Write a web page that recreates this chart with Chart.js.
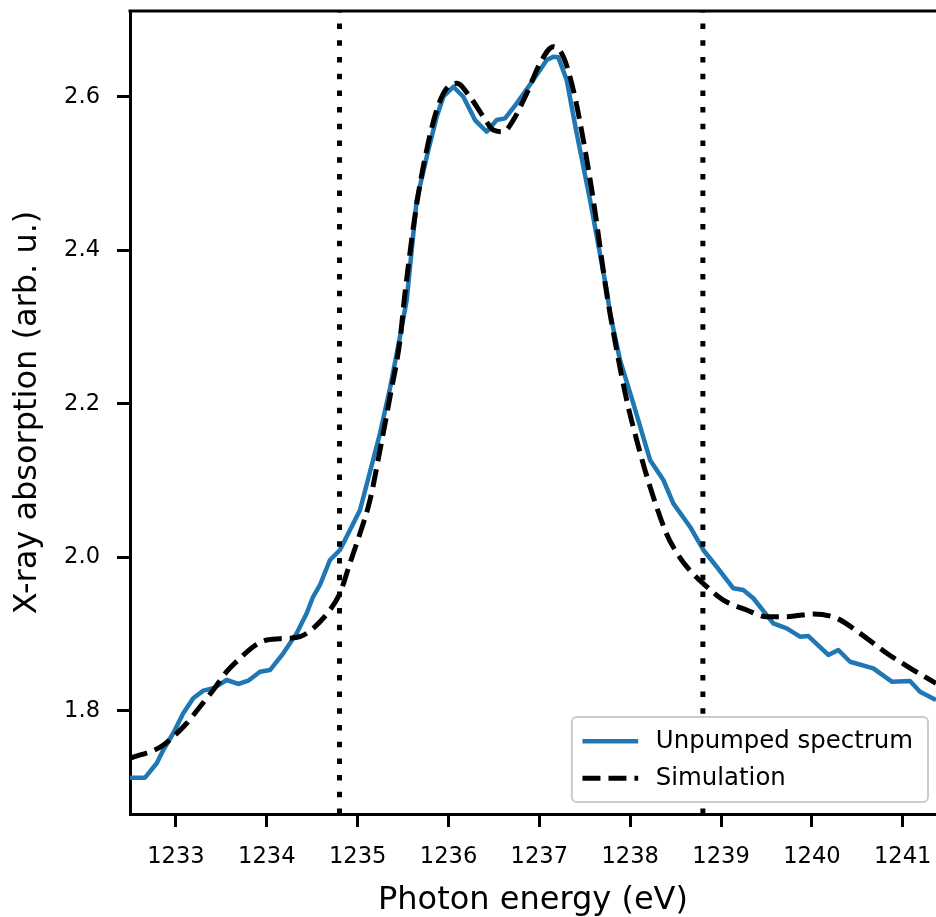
<!DOCTYPE html>
<html>
<head>
<meta charset="utf-8">
<script src="https://cdn.jsdelivr.net/npm/chart.js@4/dist/chart.umd.min.js"></script>
<style>
	html, body { margin: 0; padding: 0; background: #fff; overflow: hidden; }
	canvas { display: block; }
</style>
</head>
<body>
<canvas id="xas" width="936" height="917"></canvas>
<script>
	/*-----data-----*/
	var unpumpedEnergy = [1232.494, 1232.659, 1232.788, 1232.860, 1232.970, 1233.080, 1233.190, 1233.301, 1233.411, 1233.558,
		1233.686, 1233.796, 1233.925, 1234.035, 1234.181, 1234.329, 1234.439, 1234.508, 1234.585, 1234.695,
		1234.805, 1235.026, 1235.136, 1235.246, 1235.356, 1235.466, 1235.540, 1235.650, 1235.778, 1235.870,
		1235.943, 1236.053, 1236.163, 1236.292, 1236.420, 1236.530, 1236.622, 1236.751, 1236.933, 1237.081,
		1237.154, 1237.209, 1237.301, 1237.411, 1237.558, 1237.741, 1237.778, 1237.888, 1238.034, 1238.218,
		1238.365, 1238.474, 1238.658, 1238.805, 1238.952, 1239.135, 1239.245, 1239.355, 1239.575, 1239.723,
		1239.869, 1239.961, 1240.181, 1240.291, 1240.420, 1240.676, 1240.879, 1241.080, 1241.190, 1241.366];
	var unpumpedAbs = [1.7127, 1.7127, 1.7315, 1.7488, 1.7706, 1.7966, 1.8162, 1.8261, 1.8292, 1.8400,
		1.8348, 1.8391, 1.8508, 1.8530, 1.8748, 1.9008, 1.9269, 1.9481, 1.9638, 1.9964,
		2.0094, 2.0615, 2.1114, 2.1614, 2.2201, 2.2873, 2.3351, 2.4654, 2.5306, 2.5739,
		2.6000, 2.6130, 2.6000, 2.5696, 2.5544, 2.5696, 2.5718, 2.5914, 2.6218, 2.6478,
		2.6521, 2.6513, 2.6218, 2.5523, 2.4654, 2.3481, 2.3178, 2.2569, 2.2005, 2.1267,
		2.1006, 2.0702, 2.0397, 2.0094, 1.9876, 1.9595, 1.9573, 1.9465, 1.9139, 1.9074,
		1.8964, 1.8973, 1.8726, 1.8791, 1.8638, 1.8552, 1.8378, 1.8387, 1.8248, 1.8139];

	var simEnergy = [1232.494, 1232.835, 1232.970, 1233.118, 1233.264, 1233.411, 1233.558, 1233.705, 1233.851, 1233.998,
		1234.219, 1234.365, 1234.511, 1234.695, 1234.805, 1234.915, 1235.026, 1235.136, 1235.246, 1235.356,
		1235.466, 1235.521, 1235.650, 1235.760, 1235.870, 1235.980, 1236.090, 1236.236, 1236.383, 1236.493,
		1236.603, 1236.713, 1236.861, 1237.007, 1237.154, 1237.264, 1237.374, 1237.484, 1237.594, 1237.741,
		1237.851, 1237.961, 1238.071, 1238.218, 1238.402, 1238.511, 1238.622, 1238.842, 1239.025, 1239.282,
		1239.502, 1239.723, 1240.016, 1240.273, 1240.530, 1240.824, 1241.117, 1241.366];
	var simAbs = [1.7380, 1.7531, 1.7661, 1.7836, 1.8052, 1.8270, 1.8508, 1.8683, 1.8834, 1.8921,
		1.8943, 1.8964, 1.9074, 1.9312, 1.9530, 1.9921, 2.0311, 2.0745, 2.1397, 2.2091,
		2.2830, 2.3438, 2.4600, 2.5306, 2.5827, 2.6110, 2.6175, 2.6000, 2.5739, 2.5566,
		2.5544, 2.5696, 2.6044, 2.6435, 2.6652, 2.6521, 2.6087, 2.5435, 2.4654, 2.3438,
		2.2699, 2.2048, 2.1527, 2.0919, 2.0300, 2.0060, 1.9876, 1.9616, 1.9442, 1.9312,
		1.9225, 1.9225, 1.9260, 1.9204, 1.9008, 1.8748, 1.8530, 1.8357];

	var markerEnergies = [1234.8, 1238.8];
	var xRange = [1232.494, 1241.366];
	var yRange = [1.6654, 2.7117];
	var xTicks = [1233, 1234, 1235, 1236, 1237, 1238, 1239, 1240, 1241];
	var yTicks = [1.8, 2.0, 2.2, 2.4, 2.6];
	/*-----data-----*/

	function pairs(xs, ys) {
		return xs.map(function(x, i) { return { x: x, y: ys[i] }; });
	}

	var font = '"DejaVu Sans", sans-serif';

	/*-----legend box + top spine-----*/
	var frameLegend = {
		id: 'frameLegend',
		afterDraw: function(chart) {
			var ctx = chart.ctx, area = chart.chartArea;
			ctx.save();
			ctx.strokeStyle = '#000';
			ctx.lineWidth = 3;
			ctx.beginPath();
			ctx.moveTo(area.left - 1.5, area.top);
			ctx.lineTo(area.right, area.top);
			ctx.stroke();

			var items = chart.data.datasets.filter(function(d) { return d.inLegend; });
			ctx.font = '24.4px ' + font;
			var textW = 0;
			items.forEach(function(d) { textW = Math.max(textW, ctx.measureText(d.label).width); });
			var w = 10.6 + 55.7 + 17.7 + textW + 15;
			var h = 85;
			var x = area.right - 8 - w;
			var y = area.bottom - 12 - h;
			ctx.beginPath();
			ctx.roundRect(x, y, w, h, 5);
			ctx.fillStyle = '#fff';
			ctx.fill();
			ctx.strokeStyle = '#cccccc';
			ctx.lineWidth = 2;
			ctx.stroke();

			items.forEach(function(d, i) {
				var cy = y + 24.3 + i * 37;
				ctx.beginPath();
				ctx.strokeStyle = d.borderColor;
				ctx.lineWidth = d.borderWidth;
				ctx.setLineDash(d.borderDash || []);
				ctx.moveTo(x + 10.6, cy);
				ctx.lineTo(x + 66.3, cy);
				ctx.stroke();
				ctx.setLineDash([]);
				ctx.fillStyle = '#000';
				ctx.textAlign = 'left';
				ctx.textBaseline = 'middle';
				ctx.fillText(d.label, x + 84, cy);
			});
			ctx.restore();
		}
	};

	var datasets = [{
		label: 'Unpumped spectrum',
		inLegend: true,
		data: pairs(unpumpedEnergy, unpumpedAbs),
		borderColor: '#1f77b4',
		borderWidth: 4.5,
		order: 3
	}, {
		label: 'Simulation',
		inLegend: true,
		data: pairs(simEnergy, simAbs),
		borderColor: '#000',
		borderWidth: 5,
		borderDash: [18, 8],
		cubicInterpolationMode: 'monotone',
		order: 2
	}];
	markerEnergies.forEach(function(e) {
		datasets.push({
			label: 'marker',
			data: [{ x: e, y: yRange[0] }, { x: e, y: yRange[1] }],
			borderColor: '#000',
			borderWidth: 5,
			borderDash: [5.5, 11.2],
			order: 1
		});
	});

	// keep chart area fixed: no extra room for edge tick labels
	function noEdgePadding(s) {
		s.paddingTop = 0;
		s.paddingBottom = 0;
		s.paddingLeft = 0;
		s.paddingRight = 0;
	}

	var ctx = document.getElementById('xas').getContext('2d');
	new Chart(ctx, {
		type: 'scatter',
		data: { datasets: datasets },
		options: {
			responsive: false,
			animation: false,
			showLine: true,
			elements: {
				point: { radius: 0, hoverRadius: 0 },
				line: { tension: 0, borderCapStyle: 'butt', borderJoinStyle: 'round' }
			},
			layout: { padding: { top: 11, right: 0, left: 0, bottom: 0 } },
			plugins: {
				legend: { display: false },
				tooltip: { enabled: false }
			},
			scales: {
				x: {
					type: 'linear',
					min: xRange[0],
					max: xRange[1],
					afterFit: function(s) { s.height = 103; noEdgePadding(s); },
					afterBuildTicks: function(s) { s.ticks = xTicks.map(function(v) { return { value: v }; }); },
					border: { display: true, color: '#000', width: 3 },
					grid: { drawOnChartArea: false, drawTicks: true, tickLength: 13, tickWidth: 3, tickColor: '#000' },
					ticks: {
						color: '#000',
						padding: 17,
						maxRotation: 0,
						font: { family: font, size: 22.6 },
						callback: function(v) { return String(v); }
					},
					title: {
						display: true,
						text: 'Photon energy (eV)',
						color: '#000',
						font: { family: font, size: 32 },
						padding: { top: 0, bottom: -3 }
					}
				},
				y: {
					type: 'linear',
					min: yRange[0],
					max: yRange[1],
					afterFit: function(s) { s.width = 130; noEdgePadding(s); },
					afterBuildTicks: function(s) { s.ticks = yTicks.map(function(v) { return { value: v }; }); },
					border: { display: true, color: '#000', width: 3 },
					grid: { drawOnChartArea: false, drawTicks: true, tickLength: 13, tickWidth: 3, tickColor: '#000' },
					ticks: {
						color: '#000',
						padding: 17,
						font: { family: font, size: 22.6 },
						callback: function(v) { return v.toFixed(1); }
					},
					title: {
						display: true,
						text: 'X-ray absorption (arb. u.)',
						color: '#000',
						font: { family: font, size: 32 },
						padding: { top: 8.6, bottom: 0 }
					}
				}
			}
		},
		plugins: [frameLegend]
	});
</script>
</body>
</html>
